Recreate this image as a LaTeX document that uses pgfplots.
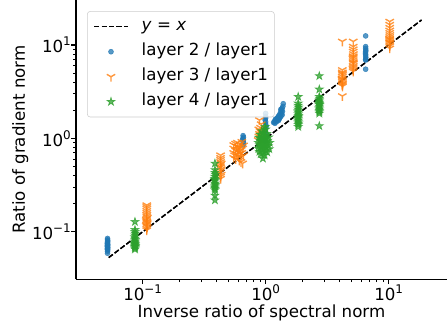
\documentclass[border=0pt]{standalone}
\usepackage{fontspec}
\setmainfont{DejaVu Sans}
\usepackage{pgfplots}
\pgfplotsset{compat=1.18}
\definecolor{tabblue}{HTML}{1F77B4}
\definecolor{taborange}{HTML}{FF7F0E}
\definecolor{tabgreen}{HTML}{2CA02C}
\newcommand{\tl}[1]{10\raisebox{0.42em}{\fontsize{8.6}{9}\selectfont #1}}
\pgfplotsset{
  markleg/.style={legend image code/.code={\draw[##1, mark repeat=2, mark phase=2] plot coordinates {(0pt,0pt) (12pt,0pt) (24pt,0pt)};}},
  lineleg/.style={legend image code/.code={\draw[##1] (0pt,0pt) -- (24pt,0pt);}},
}
\pgfdeclareplotmark{tridown}{%
  \pgfpathmoveto{\pgfqpoint{0pt}{0pt}}\pgfpathlineto{\pgfqpoint{0pt}{-\pgfplotmarksize}}%
  \pgfpathmoveto{\pgfqpoint{0pt}{0pt}}\pgfpathlineto{\pgfqpoint{-0.866\pgfplotmarksize}{0.5\pgfplotmarksize}}%
  \pgfpathmoveto{\pgfqpoint{0pt}{0pt}}\pgfpathlineto{\pgfqpoint{0.866\pgfplotmarksize}{0.5\pgfplotmarksize}}%
  \pgfusepathqstroke}
\pgfdeclareplotmark{fstar}{%
  \pgfpathmoveto{\pgfqpointpolar{90}{\pgfplotmarksize}}%
  \pgfpathlineto{\pgfqpointpolar{126}{0.382\pgfplotmarksize}}%
  \pgfpathlineto{\pgfqpointpolar{162}{\pgfplotmarksize}}%
  \pgfpathlineto{\pgfqpointpolar{198}{0.382\pgfplotmarksize}}%
  \pgfpathlineto{\pgfqpointpolar{234}{\pgfplotmarksize}}%
  \pgfpathlineto{\pgfqpointpolar{270}{0.382\pgfplotmarksize}}%
  \pgfpathlineto{\pgfqpointpolar{306}{\pgfplotmarksize}}%
  \pgfpathlineto{\pgfqpointpolar{342}{0.382\pgfplotmarksize}}%
  \pgfpathlineto{\pgfqpointpolar{18}{\pgfplotmarksize}}%
  \pgfpathlineto{\pgfqpointpolar{54}{0.382\pgfplotmarksize}}%
  \pgfpathclose\pgfusepathqfillstroke}
\begin{document}
\begin{tikzpicture}
\begin{loglogaxis}[
  width=267.1pt, height=201.1pt, scale only axis,
  xmin=0.0287, xmax=29.8, ymin=0.031, ymax=30.3,
  axis x line*=bottom, axis y line*=left,
  axis line style={black, line width=0.8pt},
  tick align=outside,
  major tick length=3.5pt, minor tick length=2pt,
  every tick/.style={black, line width=0.8pt},
  every minor tick/.style={black, line width=0.6pt},
  xtick={0.1,1,10}, xticklabels={\tl{−1},\tl{0},\tl{1}},
  ytick={0.1,1,10}, yticklabels={\tl{−1},\tl{0},\tl{1}},
  tick label style={font=\fontsize{12}{14}\selectfont, inner sep=0pt},
  label style={font=\fontsize{12}{14}\selectfont},
  xlabel={Inverse ratio of spectral norm},
  ylabel={Ratio of gradient norm},
  xlabel style={at={(axis description cs:0.5,-0.1372)}, anchor=base},
  ylabel style={at={(axis description cs:-0.1374,0.5)}, anchor=base},
  legend cell align=left,
  legend style={at={(0.03,0.96)}, anchor=north west,
    draw=black!20, rounded corners=2pt, fill=white, fill opacity=0.8, text opacity=1,
    font=\fontsize{12}{14}\selectfont,
    inner xsep=4.5pt, inner ysep=5pt,
    nodes={inner sep=0pt, text height=9pt, text depth=3pt},
    row sep=6pt,
    /tikz/every odd column/.append style={column sep=9.6pt}},
  markleg,
]
\addplot[black, line width=1pt, dash pattern=on 3.7pt off 1.6pt, mark=none, lineleg]
  coordinates {(0.053,0.053) (18.5,18.5)};
\addlegendentry{\textit{y} = \textit{x}}

% layer 2 / layer1
\addplot[only marks, mark=*, mark size=1.8pt, color=tabblue, opacity=0.75, mark options={line width=0.4pt}]
coordinates {
(0.0518,0.059)(0.0518,0.062)(0.0520,0.064)(0.0516,0.065)(0.0518,0.066)(0.0518,0.067)(0.0520,0.068)
(0.0518,0.069)(0.0516,0.070)(0.0518,0.071)(0.0518,0.072)(0.0520,0.073)(0.0518,0.074)(0.0516,0.075)
(0.0518,0.077)(0.0518,0.078)(0.0520,0.080)(0.0518,0.082)(0.0518,0.085)
(0.655,0.85)(0.655,0.88)(0.66,0.91)(0.655,0.94)(0.65,0.97)(0.655,1.00)(0.66,1.03)(0.655,1.07)
(0.99,0.95)(1.0,1.05)(1.0,1.12)(0.99,1.20)(1.0,1.28)(1.01,1.35)(1.0,1.42)(1.0,1.50)(0.99,1.58)(1.0,1.65)(1.0,1.72)(1.0,1.85)
(1.16,1.48)(1.18,1.52)(1.20,1.55)(1.20,1.60)(1.22,1.50)(1.24,1.58)(1.25,1.65)(1.26,1.70)(1.27,1.55)
(1.28,1.75)(1.29,1.62)(1.30,1.80)(1.31,1.68)(1.32,1.90)(1.33,1.72)(1.34,2.00)(1.35,1.85)(1.36,2.10)
(1.37,1.95)(1.38,2.20)(1.39,2.35)(1.33,2.05)(1.22,1.62)(1.36,1.78)(1.19,1.45)(1.28,1.60)
(6.5,12.5)(6.5,9.6)(6.5,9.2)(6.52,8.8)(6.5,8.5)(6.48,8.2)(6.5,7.9)(6.5,7.6)(6.52,7.3)(6.5,7.0)(6.5,6.9)(6.5,5.5)
};
\addlegendentry{layer 2 / layer1}

% layer 3 / layer1
\addplot[only marks, mark=tridown, mark size=3.5pt, color=taborange, opacity=0.8, mark options={line width=1pt}]
coordinates {
(0.108,0.104)(0.108,0.108)(0.109,0.112)(0.108,0.115)(0.107,0.118)(0.108,0.121)(0.109,0.124)(0.108,0.127)
(0.108,0.130)(0.107,0.134)(0.108,0.138)(0.109,0.142)(0.108,0.147)(0.108,0.153)(0.108,0.160)(0.108,0.168)
(0.108,0.177)(0.108,0.185)(0.108,0.193)
(0.43,0.37)(0.43,0.39)(0.435,0.41)(0.425,0.43)(0.43,0.45)(0.435,0.47)(0.43,0.49)(0.425,0.50)(0.43,0.52)
(0.435,0.54)(0.43,0.56)(0.43,0.59)(0.43,0.62)(0.43,0.66)
(0.55,0.62)(0.55,0.70)(0.55,0.78)(0.55,0.85)(0.56,0.66)(0.57,0.74)(0.57,0.60)(0.58,0.82)(0.58,0.68)
(0.59,0.76)(0.59,0.90)(0.60,0.64)(0.60,0.72)(0.61,0.80)(0.61,0.58)(0.62,0.69)(0.62,0.86)(0.63,0.75)
(0.63,0.63)(0.64,0.92)(0.64,0.70)(0.65,0.78)(0.65,0.54)(0.66,0.66)(0.66,0.84)(0.57,0.88)(0.60,0.81)(0.63,0.56)
(0.87,0.96)(0.88,1.05)(0.89,1.12)(0.90,1.00)(0.90,1.20)(0.91,1.08)(0.91,1.30)(0.92,1.15)(0.92,1.42)
(0.93,1.02)(0.89,1.57)(0.88,1.25)
(4.2,10.9)(4.2,5.4)(4.2,5.1)(4.22,4.8)(4.2,4.6)(4.18,4.4)(4.2,4.2)(4.2,4.05)(4.22,3.9)(4.2,3.8)(4.2,3.7)
(4.2,2.84)(4.18,4.3)(4.2,4.95)(4.21,3.6)
(5.15,10.9)(5.15,9.6)(5.15,9.0)(5.15,8.5)(5.17,8.0)(5.15,7.6)(5.13,7.2)(5.15,6.9)(5.15,6.6)(5.17,6.3)
(5.15,6.0)(5.15,5.8)(5.13,5.6)(5.15,5.4)(5.15,5.2)(5.15,7.4)(5.15,6.45)
(10.2,17.8)(10.2,16.5)(10.2,15.3)(10.2,14.3)(10.2,13.5)(10.22,12.8)(10.2,12.2)(10.18,11.7)(10.2,11.2)
(10.2,10.8)(10.22,10.4)(10.2,10.0)(10.2,9.7)(10.2,9.2)(10.2,11.5)(10.2,10.6)
};
\addlegendentry{layer 3 / layer1}

% layer 4 / layer1
\addplot[only marks, mark=fstar, mark size=3pt, color=tabgreen, opacity=0.75, mark options={line width=0.5pt}]
coordinates {
(0.0866,0.128)(0.0866,0.105)(0.0866,0.100)(0.087,0.096)(0.0866,0.092)(0.086,0.088)(0.0866,0.085)
(0.087,0.082)(0.0866,0.079)(0.0866,0.077)(0.086,0.075)(0.0866,0.073)(0.087,0.071)(0.0866,0.069)
(0.0866,0.067)(0.0866,0.065)(0.0866,0.074)(0.0866,0.070)
(0.387,0.54)(0.387,0.46)(0.387,0.43)(0.39,0.41)(0.387,0.39)(0.385,0.37)(0.387,0.35)(0.387,0.33)
(0.39,0.32)(0.387,0.31)(0.385,0.30)(0.387,0.29)(0.387,0.28)(0.387,0.245)(0.387,0.218)(0.387,0.36)
(0.87,0.78)(0.87,0.90)(0.88,1.02)(0.89,0.72)(0.89,0.85)(0.90,0.95)(0.90,1.10)(0.91,0.80)(0.91,0.68)
(0.92,1.00)(0.92,0.88)(0.93,1.20)(0.93,0.75)(0.94,0.93)(0.94,0.82)(0.95,1.05)(0.95,0.70)(0.96,0.87)
(0.96,1.15)(0.97,0.78)(0.97,0.97)(0.98,0.66)(0.98,1.08)(0.99,0.84)(0.99,1.33)(1.00,0.92)(1.00,0.74)
(1.01,1.00)(1.01,0.80)(1.02,0.89)(1.02,1.12)(1.03,0.71)(1.04,0.95)(1.05,0.83)(1.06,1.03)(1.07,0.77)
(1.08,0.90)(0.95,0.61)(1.00,1.25)
(1.84,2.79)(1.84,2.37)(1.84,2.25)(1.85,2.15)(1.84,2.05)(1.83,1.97)(1.84,1.90)(1.84,1.82)(1.85,1.75)
(1.84,1.68)(1.83,1.62)(1.84,1.56)(1.84,1.50)(1.85,1.45)(1.84,1.40)(1.84,1.33)(1.84,1.72)
(2.73,4.66)(2.73,3.35)(2.73,2.79)(2.74,2.68)(2.73,2.58)(2.72,2.50)(2.73,2.42)(2.73,2.35)(2.74,2.28)
(2.73,2.20)(2.72,2.12)(2.73,2.05)(2.73,1.98)(2.73,1.92)(2.73,1.85)(2.73,1.36)(2.73,2.30)
};
\addlegendentry{layer 4 / layer1}

\addplot[forget plot, black, line width=1pt, dash pattern=on 3.7pt off 1.6pt, mark=none]
  coordinates {(0.053,0.053) (18.5,18.5)};
\end{loglogaxis}
\pgfresetboundingbox
\path[use as bounding box] ([xshift=-54.7pt,yshift=-35.8pt]current axis.south west) rectangle (current axis.north east);
\end{tikzpicture}
\end{document}
